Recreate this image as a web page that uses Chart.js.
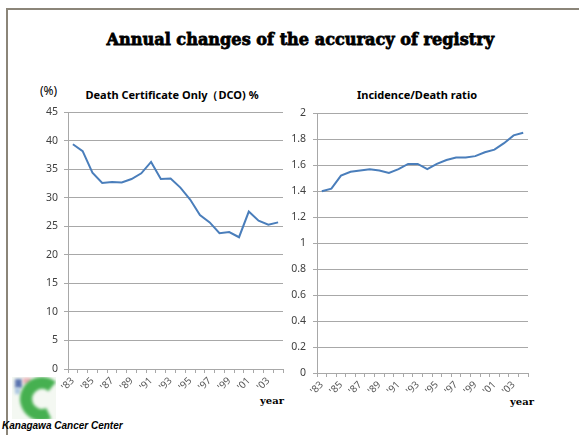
<!DOCTYPE html>
<html>
<head>
<meta charset="utf-8">
<script src="https://cdn.jsdelivr.net/npm/chart.js@4.4.1/dist/chart.umd.min.js"></script>
<style>
  html, body { margin: 0; padding: 0; background: #fff; }
  #page { position: relative; width: 579px; height: 435px; overflow: hidden; }
  #frame { position: absolute; left: 6px; top: 8px; width: 600px; height: 500px;
           border-left: 2px solid #8b8579; border-top: 2px solid #8b8579; }
  .abs { position: absolute; white-space: nowrap; }
  #title { left: 0; width: 600px; top: 29px; text-align: center; font: bold 17px "DejaVu Serif"; color: #000;
           -webkit-text-stroke: 0.8px #000; }
  #title span { display: inline-block; transform-origin: center; }
  .sub { font: bold 11px "Noto Sans"; color: #000; transform: translateX(-50%); }
  .year { font: bold 10px "DejaVu Serif"; color: #000; }
  canvas { position: absolute; }
</style>
</head>
<body>
<div id="page">
  <div id="frame"></div>
  <div id="title" class="abs"><span id="titleText">Annual changes of the accuracy of registry</span></div>
  <div class="abs" style="left:40px; top:82px; font: 12px 'Noto Sans'; color:#000;">(%)</div>
  <div class="abs sub" style="left:172px; top:87px;">Death Certificate Only（DCO) %</div>
  <div class="abs sub" style="left:417px; top:87px;">Incidence/Death ratio</div>
  <div class="abs year" style="left:260px; top:395px;">year</div>
  <div class="abs year" style="left:510px; top:396px;">year</div>
  <canvas id="logo" width="44" height="42" style="left:12px; top:377px;"></canvas>
  <div class="abs" style="left:2px; top:420px; font: italic bold 10px 'Liberation Sans'; color:#000;">Kanagawa Cancer Center</div>
  <canvas id="dco" width="260" height="320" style="left:30px; top:100px;"></canvas>
  <canvas id="ratio" width="255" height="320" style="left:280px; top:100px;"></canvas>
</div>
<script>
const years = ["'83", "'84", "'85", "'86", "'87", "'88", "'89", "'90", "'91", "'92", "'93",
               "'94", "'95", "'96", "'97", "'98", "'99", "'00", "'01", "'02", "'03", "'04"];
const dcoPercent = [39.4, 38.2, 34.4, 32.6, 32.8, 32.7, 33.3, 34.3, 36.3, 33.3, 33.4,
                    31.8, 29.7, 27.0, 25.7, 23.8, 24.0, 23.1, 27.6, 26.0, 25.3, 25.7];
const incidenceDeathRatio = [1.40, 1.42, 1.52, 1.55, 1.56, 1.57, 1.56, 1.54, 1.57, 1.61, 1.61,
                             1.57, 1.61, 1.64, 1.66, 1.66, 1.67, 1.70, 1.72, 1.77, 1.83, 1.85];

// squeeze the heading to the width it has on the slide
const tt = document.getElementById('titleText');
tt.style.transform = 'scaleX(' + (388 / tt.offsetWidth) + ')';

// small logo mark, blurred like the low-res original
(function () {
    const c = document.getElementById('logo').getContext('2d');
    c.fillStyle = '#f4f8f2';
    c.fillRect(0, 0, 44, 42);
    c.filter = 'blur(1.5px)';
    c.fillStyle = '#5a74b0'; c.fillRect(3, 2, 7, 9);
    c.fillStyle = '#ecb0b8'; c.fillRect(11, 1, 8, 6);
    c.fillStyle = '#a8c4e0'; c.fillRect(3, 11, 5, 6);
    c.strokeStyle = '#46b050';
    c.lineWidth = 12;
    c.beginPath();
    c.arc(30, 22, 16, Math.PI * 0.36, Math.PI * 1.72);
    c.stroke();
    c.filter = 'none';
})();

const tickColor = '#595959';
const gridColor = '#a8a8a8';

function makeChart(id, values, yMax, yStep, yWidth, xHeight, padTop, labelPad, fmt) {
    return new Chart(document.getElementById(id), {
        type: 'line',
        data: {
            labels: years,
            datasets: [{
                data: values,
                borderColor: '#4a7ebb',
                borderWidth: 2,
                pointRadius: 0,
                tension: 0,
                fill: false
            }]
        },
        options: {
            responsive: false,
            animation: false,
            devicePixelRatio: 1,
            layout: { padding: { top: padTop, right: 7, left: 0, bottom: 0 } },
            plugins: { legend: { display: false }, tooltip: { enabled: false } },
            scales: {
                x: {
                    offset: true,
                    grid: { offset: true, drawOnChartArea: false, drawTicks: true, tickLength: 4, color: gridColor },
                    border: { color: gridColor },
                    ticks: {
                        autoSkip: false,
                        minRotation: 45,
                        maxRotation: 45,
                        padding: 2,
                        color: tickColor,
                        font: { family: 'Noto Sans', size: 10 },
                        callback: function (v, i) { return i % 2 === 0 ? years[i] : ''; }
                    },
                    afterFit: s => { s.height = xHeight; }
                },
                y: {
                    min: 0,
                    max: yMax,
                    grid: { color: gridColor, tickLength: 4 },
                    border: { color: gridColor },
                    ticks: {
                        stepSize: yStep,
                        padding: labelPad,
                        color: '#404040',
                        font: { family: 'Noto Sans', size: 10.5 },
                        callback: fmt
                    },
                    afterFit: s => { s.width = yWidth; }
                }
            }
        }
    });
}

makeChart('dco', dcoPercent, 45, 5, 38, 51, 9, 6, v => String(v));
makeChart('ratio', incidenceDeathRatio, 2, 0.2, 37, 47, 11, 7, v => String(+v.toFixed(1)));
</script>
</body>
</html>
